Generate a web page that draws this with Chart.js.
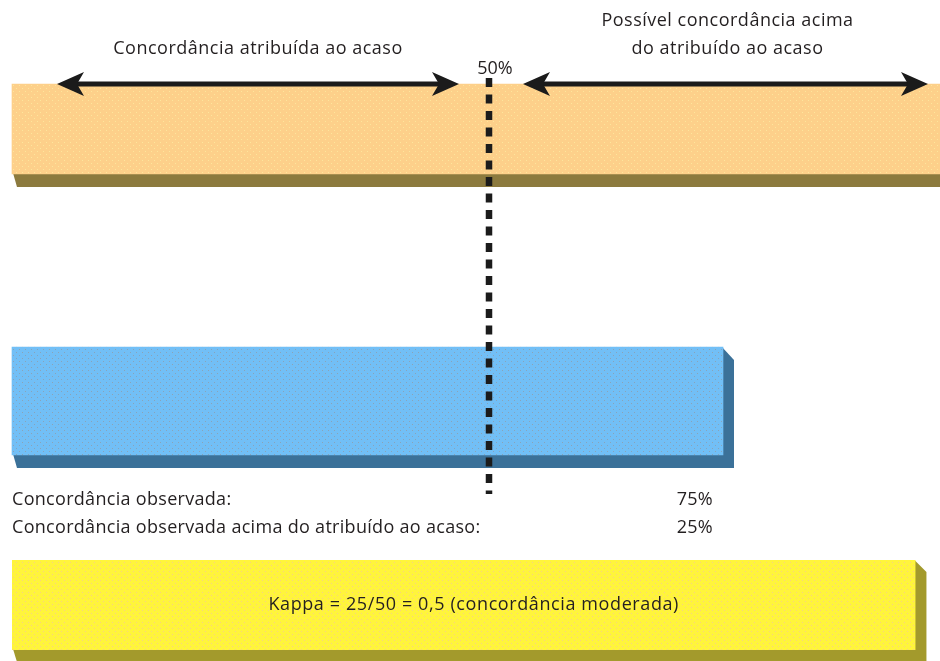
<!DOCTYPE html>
<html>
<head>
<meta charset="utf-8">
<script src="https://cdn.jsdelivr.net/npm/chart.js@4.4.1/dist/chart.umd.min.js"></script>
<style>
  html, body { margin: 0; padding: 0; background: #fff; overflow: hidden; }
  #wrap { position: relative; width: 960px; height: 661px; }
</style>
</head>
<body>
<div id="wrap"><canvas id="chart" width="960" height="661"></canvas></div>
<script>
// rows of the diagram (empty rows are spacers)
const rowLabels = ['Acaso', '', '', '', 'Observada', '', '', 'Kappa']
const possibleAgreement = [100, null, null, null, null, null, null, null]
const observedAgreement = [null, null, null, null, 75, null, null, null]
const chanceAgreement = 50
const leftArrowText = ['Concordância atribuída ao acaso']
const rightArrowText = ['Possível concordância acima', 'do atribuído ao acaso']
const summaryLabels = ['Concordância observada:', 'Concordância observada acima do atribuído ao acaso:']
const summaryValues = ['75%', '25%']
const kappaText = 'Kappa = 25/50 = 0,5 (concordância moderada)'

const FONT = '18px "Open Sans", "Noto Sans", sans-serif'
const TEXT = '#231f20'

function dotPattern(base, dot) {
    const c = document.createElement('canvas')
    c.width = 6
    c.height = 6
    const g = c.getContext('2d')
    g.fillStyle = base
    g.fillRect(0, 0, 6, 6)
    g.fillStyle = dot
    g.fillRect(1, 1, 1, 1)
    g.fillRect(4, 4, 1, 1)
    return g.createPattern(c, 'repeat')
}

const orangeFill = dotPattern('#fdd08a', '#fde69c')
const blueFill = dotPattern('#72bff6', '#8aa3b8')
const yellowFill = dotPattern('#fff43c', '#f6cf86')

// 3D-ish extrusion below/right of a box
function drawShadow(ctx, left, right, top, bottom, color, dx, dy) {
    ctx.save()
    ctx.fillStyle = color
    ctx.beginPath()
    ctx.moveTo(left + 1, bottom - 1)
    ctx.lineTo(left + 5, bottom + dy)
    ctx.lineTo(right + dx, bottom + dy)
    ctx.lineTo(right + dx, top + dy)
    ctx.lineTo(right - 1, top)
    ctx.closePath()
    ctx.fill()
    ctx.restore()
}

function arrowHead(ctx, tip, y, dir) {
    ctx.beginPath()
    ctx.moveTo(tip, y)
    ctx.lineTo(tip + dir * 27, y - 12)
    ctx.lineTo(tip + dir * 20, y)
    ctx.lineTo(tip + dir * 27, y + 12)
    ctx.closePath()
    ctx.fill()
}

function doubleArrow(ctx, x1, x2, y) {
    ctx.save()
    ctx.fillStyle = '#1b1b1b'
    ctx.strokeStyle = '#1b1b1b'
    ctx.lineWidth = 5
    ctx.beginPath()
    ctx.moveTo(x1 + 20, y)
    ctx.lineTo(x2 - 20, y)
    ctx.stroke()
    arrowHead(ctx, x1, y, 1)
    arrowHead(ctx, x2, y, -1)
    ctx.restore()
}

const shadowColors = ['#8c7a3e', '#3b7199']

const diagramPlugin = {
    id: 'diagram',
    beforeDatasetsDraw(chart) {
        const ctx = chart.ctx
        const xs = chart.scales.x
        const ys = chart.scales.y
        chart.data.datasets.forEach((ds, i) => {
            chart.getDatasetMeta(i).data.forEach((bar, j) => {
                if (ds.data[j] == null) return
                const p = bar.getProps(['x', 'y', 'base', 'height'], true)
                drawShadow(ctx, p.base, p.x, p.y - p.height / 2, p.y + p.height / 2, shadowColors[i], 11, 13)
            })
        })

        // kappa box
        const ky = ys.getPixelForValue(7)
        const kl = xs.getPixelForValue(0)
        const kr = xs.getPixelForValue(95.3)
        drawShadow(ctx, kl, kr, ky - 45, ky + 45, '#a39a2c', 11, 12)
        ctx.save()
        ctx.fillStyle = yellowFill
        ctx.fillRect(kl, ky - 45, kr - kl, 90)
        ctx.restore()
    },
    afterDraw(chart) {
        const ctx = chart.ctx
        const xs = chart.scales.x
        const ys = chart.scales.y
        const x0 = xs.getPixelForValue(0)
        const xm = xs.getPixelForValue(chanceAgreement)
        const x100 = xs.getPixelForValue(100)
        const topY = ys.getPixelForValue(0) - 45

        // dotted 50% line
        ctx.save()
        ctx.strokeStyle = '#1b1b1b'
        ctx.lineWidth = 6.5
        ctx.setLineDash([9, 7.5])
        ctx.beginPath()
        ctx.moveTo(xm + 3, topY - 6)
        ctx.lineTo(xm + 3, 494)
        ctx.stroke()
        ctx.restore()

        const l1 = x0 + 45, l2 = xm - 27
        const r1 = xm + 37, r2 = x100 - 32
        doubleArrow(ctx, l1, l2, topY)
        doubleArrow(ctx, r1, r2, topY)

        ctx.save()
        ctx.font = FONT
        ctx.letterSpacing = '0.5px'
        ctx.fillStyle = TEXT
        ctx.textBaseline = 'middle'
        ctx.textAlign = 'center'
        ctx.fillText(leftArrowText[0], (l1 + l2) / 2, 49)
        ctx.fillText(rightArrowText[0], (r1 + r2) / 2 + 2, 21)
        ctx.fillText(rightArrowText[1], (r1 + r2) / 2 + 2, 49)
        ctx.letterSpacing = '0px'
        ctx.fillText(chanceAgreement + '%', xm + 9, 69)

        ctx.letterSpacing = '0.3px'
        ctx.textAlign = 'left'
        ctx.fillText(summaryLabels[0], x0, 500)
        ctx.fillText(summaryLabels[1], x0, 528)
        ctx.textAlign = 'right'
        const vx = xs.getPixelForValue(75) - 10
        ctx.fillText(summaryValues[0], vx, 500)
        ctx.fillText(summaryValues[1], vx, 528)

        ctx.letterSpacing = '0.6px'
        ctx.textAlign = 'center'
        const kl = xs.getPixelForValue(0)
        const kr = xs.getPixelForValue(95.3)
        ctx.fillText(kappaText, (kl + kr) / 2 + 10, ys.getPixelForValue(7))
        ctx.restore()
    }
}

new Chart(document.getElementById('chart'), {
    type: 'bar',
    data: {
        labels: rowLabels,
        datasets: [
            {
                label: 'Possível',
                data: possibleAgreement,
                backgroundColor: orangeFill,
                barThickness: 90,
                borderWidth: 0,
                clip: false
            },
            {
                label: 'Observada',
                data: observedAgreement,
                backgroundColor: blueFill,
                barThickness: 108,
                borderWidth: 0,
                clip: false
            }
        ]
    },
    options: {
        indexAxis: 'y',
        responsive: false,
        animation: false,
        devicePixelRatio: 1,
        grouped: false,
        layout: { padding: { left: 12, top: 95, bottom: 22, right: 0 } },
        plugins: {
            legend: { display: false },
            tooltip: { enabled: false }
        },
        scales: {
            x: { type: 'linear', min: 0, max: 100, display: false },
            y: { display: false }
        }
    },
    plugins: [diagramPlugin]
})
</script>
</body>
</html>
